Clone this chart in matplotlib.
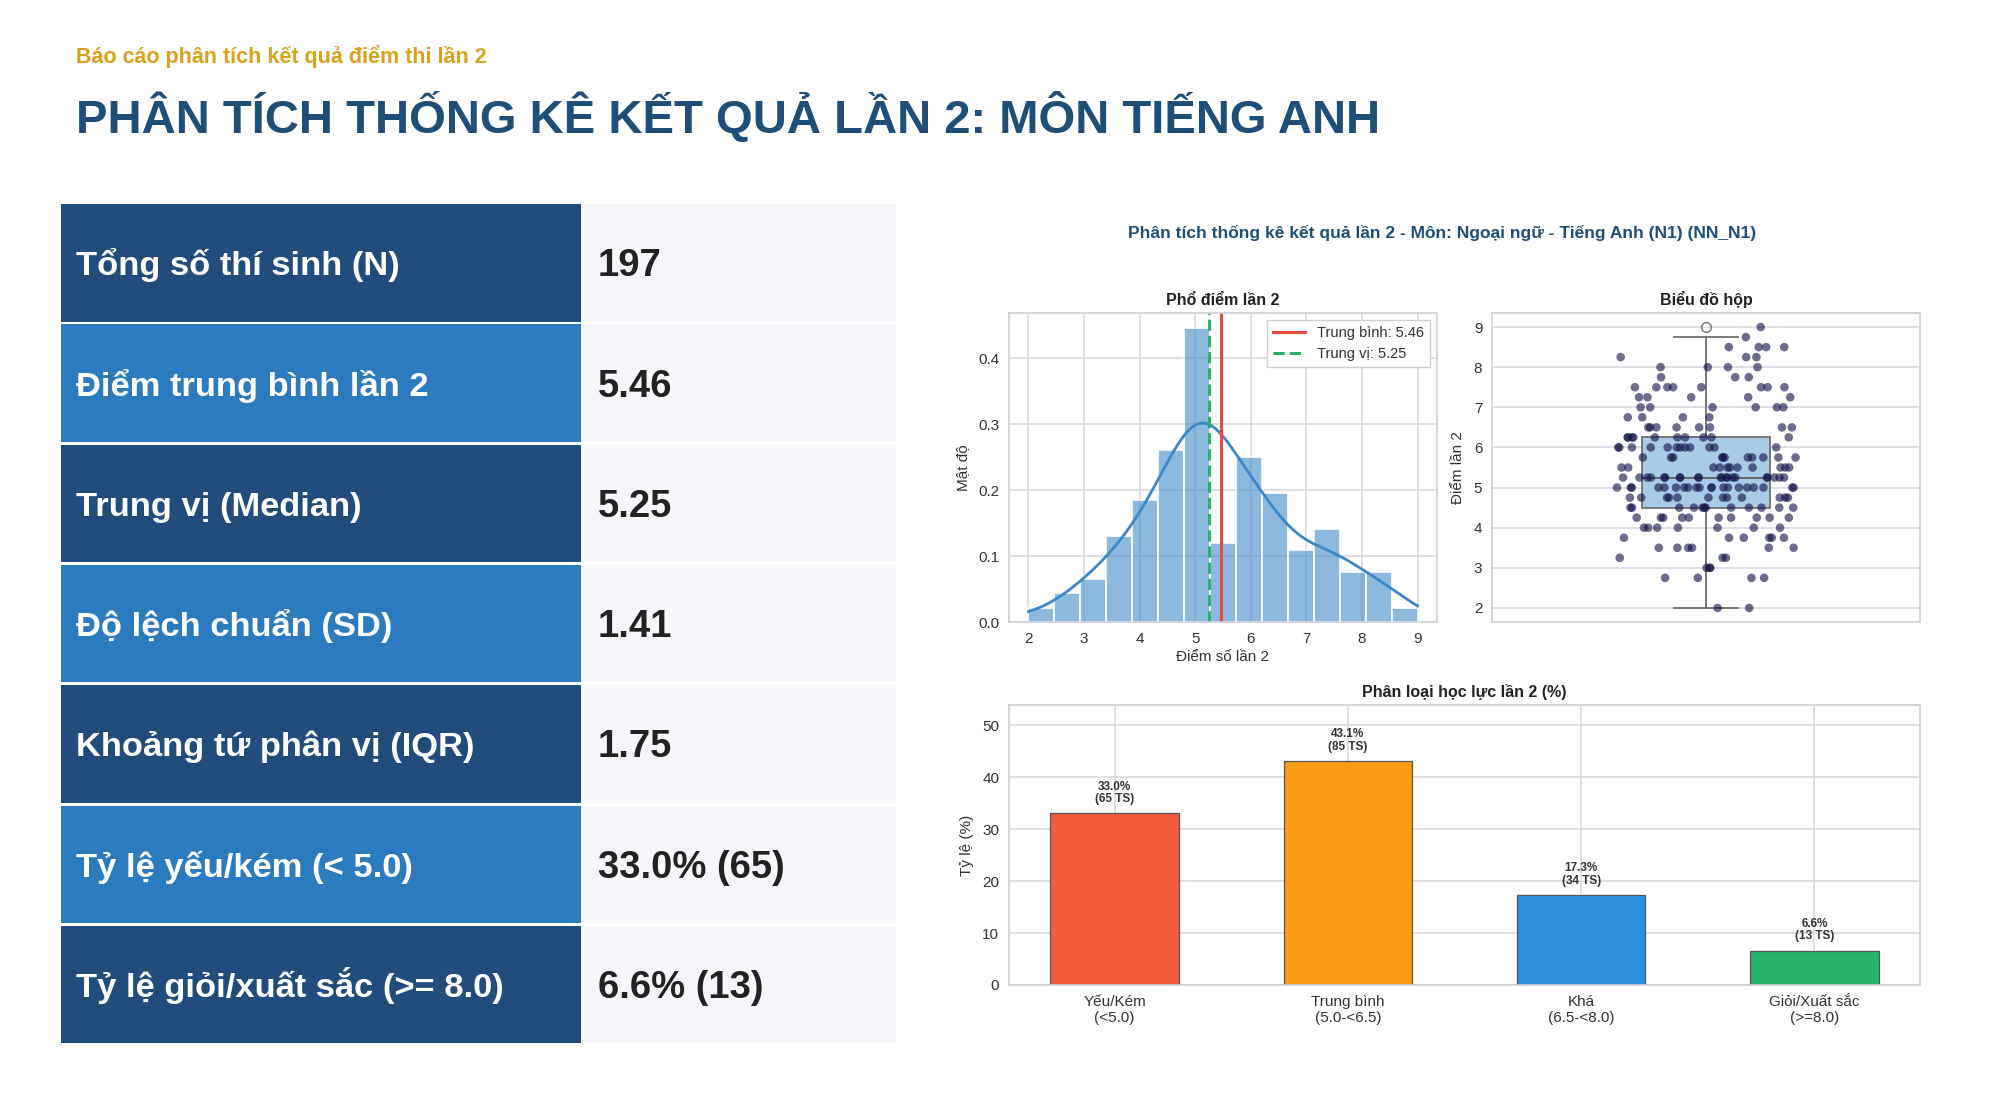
import numpy as np
import matplotlib
matplotlib.use("Agg")
import matplotlib.pyplot as plt
import seaborn as sns
from matplotlib.patches import Rectangle

plt.rcParams['font.family'] = ['Liberation Sans', 'DejaVu Sans']

# ---------------- data ----------------
header_sub = "Báo cáo phân tích kết quả điểm thi lần 2"
header_title = "PHÂN TÍCH THỐNG KÊ KẾT QUẢ LẦN 2: MÔN TIẾNG ANH"

stat_labels = ["Tổng số thí sinh (N)", "Điểm trung bình lần 2", "Trung vị (Median)",
               "Độ lệch chuẩn (SD)", "Khoảng tứ phân vị (IQR)",
               "Tỷ lệ yếu/kém (< 5.0)", "Tỷ lệ giỏi/xuất sắc (>= 8.0)"]
stat_values = ["197", "5.46", "5.25", "1.41", "1.75", "33.0% (65)", "6.6% (13)"]

score_values = [2.0, 2.25, 2.5, 2.75, 3.0, 3.25, 3.5, 3.75, 4.0, 4.25, 4.5, 4.75,
                5.0, 5.25, 5.5, 5.75, 6.0, 6.25, 6.5, 6.75, 7.0, 7.25, 7.5, 7.75,
                8.0, 8.25, 8.5, 8.75, 9.0]
score_counts = [2, 0, 0, 4, 3, 3, 6, 6, 7, 10, 12, 12,
                20, 21, 11, 11, 12, 10, 8, 4, 6, 5, 8, 3,
                4, 3, 4, 1, 1]

cat_labels = ["Yếu/Kém\n(<5.0)", "Trung bình\n(5.0-<6.5)", "Khá\n(6.5-<8.0)", "Giỏi/Xuất sắc\n(>=8.0)"]
cat_pct = [33.0, 43.1, 17.3, 6.6]
cat_cnt = [65, 85, 34, 13]
cat_colors = ["#F35B3D", "#F89C13", "#2E8FDF", "#27B36B"]

chart_title = "Phân tích thống kê kết quả lần 2 - Môn: Ngoại ngữ - Tiếng Anh (N1) (NN_N1)"

scores = np.repeat(np.array(score_values), score_counts)
mean_v = scores.mean()
median_v = np.median(scores)

# ---------------- figure ----------------
W, H = 2000, 1094
fig = plt.figure(figsize=(W / 100, H / 100), dpi=100)
fig.patch.set_facecolor("white")

bg = fig.add_axes([0, 0, 1, 1])
bg.set_xlim(0, W)
bg.set_ylim(H, 0)
bg.axis("off")

bg.text(76, 63, header_sub, fontsize=15.5, fontweight="bold", color="#D9A21B", va="baseline")
bg.text(76, 133, header_title, fontsize=34.0, fontweight="bold", color="#1F4E79", va="baseline")

top, pitch, rh = 204, 120.3, 117.5
x0, x1, x2 = 61, 581, 896
dark, light = "#224C7B", "#2C7BBF"
for i, (lab, val) in enumerate(zip(stat_labels, stat_values)):
    y = top + i * pitch
    bg.add_patch(Rectangle((x0, y), x1 - x0, rh, facecolor=dark if i % 2 == 0 else light, edgecolor="none"))
    bg.add_patch(Rectangle((x1, y), x2 - x1, rh, facecolor="#F6F7FB", edgecolor="none"))
    cy = y + rh / 2
    bg.text(76, cy + 12.5, lab, fontsize=24.8, fontweight="bold", color="white", va="baseline")
    bg.text(598, cy + 13.5, val, fontsize=27.5, fontweight="bold", color="#222222", va="baseline")

# chart suptitle
bg.text(1442, 233, chart_title, fontsize=12.5, fontweight="bold", color="#1F4E79", ha="center", va="center")

grid_c = "#D9D9E0"
spine_c = "#D0D0D8"
tick_c = "#333333"

def style(ax):
    ax.set_facecolor("white")
    for s in ax.spines.values():
        s.set_color(spine_c)
        s.set_linewidth(1.2)
    ax.grid(True, color=grid_c, linewidth=1.2)
    ax.set_axisbelow(True)
    ax.tick_params(length=0, labelsize=11, colors=tick_c, pad=7)

def fa(l, t, r, b):
    return [l / W, 1 - b / H, (r - l) / W, (b - t) / H]

# histogram
ax1 = fig.add_axes(fa(1009, 313, 1437, 622))
style(ax1)
sns.histplot(x=scores, bins=15, stat="density", kde=True, ax=ax1, color="#3C87C8",
             alpha=0.58, edgecolor="white", linewidth=1.2, line_kws={"linewidth": 2})
ax1.axvline(mean_v, color="#E74C3C", linewidth=2.2, label=f"Trung bình: {mean_v:.2f}")
ax1.axvline(median_v, color="#27B36B", linewidth=2.2, linestyle="--", label=f"Trung vị: {median_v:.2f}")
ax1.set_xticks(range(2, 10))
ax1.set_title("Phổ điểm lần 2", fontsize=11.5, fontweight="bold", color="#222222", pad=6)
ax1.set_xlabel("Điểm số lần 2", fontsize=11, color=tick_c, labelpad=3)
ax1.set_ylabel("Mật độ", fontsize=11, color=tick_c, labelpad=6)
leg = ax1.legend(loc="upper right", fontsize=10.5, frameon=True, fancybox=False,
                 edgecolor="#D0D0D0", framealpha=1, handlelength=2.2)
for t in leg.get_texts():
    t.set_color(tick_c)

# box plot
ax2 = fig.add_axes(fa(1492, 313, 1920, 622))
style(ax2)
ax2.grid(False, axis="x")
bp = ax2.boxplot(scores, positions=[0], widths=0.3, patch_artist=True,
                 boxprops=dict(facecolor="#A8CBE8", edgecolor="#707070", linewidth=1.3),
                 medianprops=dict(color="#606060", linewidth=1.3),
                 whiskerprops=dict(color="#707070", linewidth=1.3),
                 capprops=dict(color="#707070", linewidth=1.3),
                 flierprops=dict(marker="o", markerfacecolor="none", markeredgecolor="#707070",
                                 markersize=7))
# deterministic hash-based jitter (positions only)
idx = np.arange(len(scores)) + 1.0
jit = ((np.sin(idx * 12.9898 + 78.233) * 43758.5453) % 1.0 - 0.5) * 0.42
ax2.scatter(jit, scores, s=38, color="#14144A", alpha=0.62, edgecolors="none", zorder=3)
ax2.set_xlim(-0.5, 0.5)
ax2.set_xticks([])
ax2.set_yticks(range(2, 10))
ax2.set_title("Biểu đồ hộp", fontsize=11.5, fontweight="bold", color="#222222", pad=6)
ax2.set_ylabel("Điểm lần 2", fontsize=11, color=tick_c, labelpad=6)

# bar chart
ax3 = fig.add_axes(fa(1009, 705, 1920, 985))
style(ax3)
xpos = np.arange(len(cat_labels))
bars = ax3.bar(xpos, cat_pct, width=0.55, color=cat_colors, edgecolor="#555555", linewidth=0.9)
for xb, p, c in zip(xpos, cat_pct, cat_cnt):
    ax3.annotate(f"{p:.1f}%\n({c} TS)", (xb, p), xytext=(0, 6), textcoords="offset points",
                 ha="center", va="bottom", fontsize=8.5, fontweight="bold", color="#333333",
                 linespacing=1.05)
ax3.set_xticks(xpos)
ax3.set_xticklabels(cat_labels, fontsize=11)
ax3.set_ylim(0, max(cat_pct) * 1.25)
ax3.set_title("Phân loại học lực lần 2 (%)", fontsize=11.5, fontweight="bold", color="#222222", pad=6)
ax3.set_ylabel("Tỷ lệ (%)", fontsize=11, color=tick_c, labelpad=6)

fig.savefig("out.png", dpi=100, facecolor="white")
